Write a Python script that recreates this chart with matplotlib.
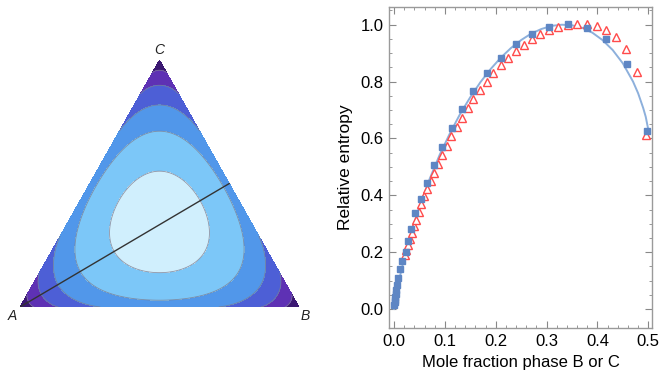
import numpy as np
import matplotlib
matplotlib.use("Agg")
import matplotlib.pyplot as plt
import matplotlib.tri as mtri

plt.rcParams["font.family"] = ["Liberation Sans", "DejaVu Sans"]

# contour levels of the mixing entropy -sum(x ln x) and band colours
levels = [0.0, 0.2, 0.4, 0.6, 0.8, 1.0, 1.1]
band_colors = ["#3b1872", "#5e31b4", "#4d5fd6", "#5197ea", "#7cc7f8", "#d0effd"]
vertex_labels = ["A", "B", "C"]

# right panel data
sq_x = [0.0006, 0.0013, 0.002, 0.0026, 0.0032, 0.0045, 0.0058, 0.0085, 0.0118,
        0.0163, 0.0236, 0.0282, 0.0334, 0.0419, 0.0525, 0.0643, 0.0793, 0.0944,
        0.1147, 0.134, 0.156, 0.1823, 0.210, 0.239, 0.271, 0.305, 0.3415, 0.379,
        0.417, 0.4575, 0.498]
sq_y = [0.014, 0.024, 0.033, 0.042, 0.052, 0.066, 0.084, 0.110, 0.140,
        0.169, 0.2015, 0.240, 0.282, 0.337, 0.386, 0.444, 0.506, 0.571,
        0.638, 0.702, 0.767, 0.829, 0.884, 0.931, 0.967, 0.993, 1.001, 0.989,
        0.949, 0.862, 0.626]

tri_x = [0.021, 0.0242, 0.0275, 0.0315, 0.0348, 0.0387, 0.0433, 0.0485, 0.0537,
         0.0596, 0.0655, 0.0721, 0.0793, 0.0865, 0.0944, 0.1036, 0.1127, 0.1232,
         0.1337, 0.1455, 0.1563, 0.169, 0.1823, 0.1953, 0.2099, 0.2248, 0.240,
         0.2557, 0.2714, 0.2878, 0.3054, 0.323, 0.3421, 0.3604, 0.379, 0.3986,
         0.417, 0.4365, 0.4557, 0.477, 0.4955]
tri_y = [0.190, 0.2075, 0.225, 0.246, 0.266, 0.291, 0.314, 0.340, 0.368,
         0.396, 0.423, 0.450, 0.478, 0.511, 0.5417, 0.5745, 0.6085, 0.639,
         0.672, 0.706, 0.7376, 0.770, 0.7995, 0.831, 0.858, 0.884, 0.9075,
         0.929, 0.949, 0.967, 0.981, 0.991, 0.998, 1.001, 1.001, 0.994,
         0.981, 0.958, 0.9145, 0.833, 0.612]

curve_x = [0.0, 0.002, 0.005, 0.01, 0.02, 0.03, 0.04, 0.05, 0.07, 0.09, 0.11,
           0.13, 0.15, 0.17, 0.19, 0.21, 0.23, 0.25, 0.27, 0.29, 0.31, 0.33,
           0.35, 0.37, 0.39, 0.41, 0.43, 0.45, 0.47, 0.48, 0.49, 0.495, 0.5]
curve_y = [0.0, 0.026, 0.057, 0.102, 0.178, 0.244, 0.304, 0.359, 0.457, 0.543,
           0.618, 0.686, 0.745, 0.798, 0.844, 0.884, 0.918, 0.946, 0.969, 0.985,
           0.996, 1.000, 0.998, 0.989, 0.972, 0.946, 0.911, 0.864, 0.800, 0.759,
           0.707, 0.676, 0.631]

W, H = 659, 373
fig = plt.figure(figsize=(W / 100, H / 100), dpi=100)

# ---- left: ternary contour plot ----
apex_h = 0.885
verts = np.array([[0.0, 0.0], [1.0, 0.0], [0.5, apex_h]])


def to_xy(a, b, c):
    return a * verts[0, 0] + b * verts[1, 0] + c * verts[2, 0], \
           a * verts[0, 1] + b * verts[1, 1] + c * verts[2, 1]


axl = fig.add_axes([20 / W, (H - 307) / H, 279 / W, 279 / H])
n = 240
bb, cc = np.meshgrid(np.arange(n + 1) / n, np.arange(n + 1) / n)
keep = bb + cc <= 1 + 1e-9
b = bb[keep]
c = cc[keep]
a = np.clip(1 - b - c, 0, 1)
comp = np.vstack([a, b, c])
with np.errstate(divide="ignore", invalid="ignore"):
    s = -np.where(comp > 0, comp * np.log(comp), 0).sum(axis=0)
px, py = to_xy(a, b, c)
tr = mtri.Triangulation(px, py)
axl.tricontourf(tr, s, levels=levels, colors=band_colors)
axl.tricontour(tr, s, levels=levels[1:-1], colors="#7d7d90", linewidths=0.6, alpha=0.8)

lx, ly = to_xy(np.array([1.0, 0.0]), np.array([0.0, 0.5]), np.array([0.0, 0.5]))
axl.plot(lx, ly, color="#333333", lw=1.0)

label_pos = [(-0.028, -0.032), (1.022, -0.032), (0.5, 0.922)]
for lab, (x, y) in zip(vertex_labels, label_pos):
    axl.text(x, y, lab, fontsize=10, style="italic", color="#222222",
             ha="center", va="center")
axl.set_xlim(0, 1)
axl.set_ylim(0, 1)
axl.axis("off")

# ---- right: entropy along the A -> BC line ----
axr = fig.add_axes([389 / W, (H - 328) / H, 263 / W, 321 / H])
axr.plot(curve_x, curve_y, color="#8db0dc", lw=1.4, zorder=2)
axr.plot(tri_x, tri_y, "^", ms=5.5, mfc="white", mec="#ff4b4b", mew=1.0, zorder=3)
axr.plot(sq_x, sq_y, "s", ms=3.8, color="#5e86c4", zorder=4)

axr.set_xlim(-0.0098, 0.5073)
axr.set_ylim(-0.0668, 1.0623)
axr.set_xticks(np.arange(0, 0.51, 0.1))
axr.set_xticks(np.arange(0, 0.51, 0.02), minor=True)
axr.set_yticks(np.arange(0, 1.01, 0.2))
axr.set_yticks(np.arange(0, 1.06, 0.05), minor=True)
axr.set_xticklabels([f"{v:.1f}" for v in np.arange(0, 0.51, 0.1)])
axr.set_yticklabels([f"{v:.1f}" for v in np.arange(0, 1.01, 0.2)])
axr.tick_params(which="both", direction="in", top=True, right=True, color="#888888",
                labelsize=12, pad=4)
axr.tick_params(which="major", length=5, width=0.8)
axr.tick_params(which="minor", length=2.5, width=0.6)
for sp in axr.spines.values():
    sp.set_color("#9a9a9a")
    sp.set_linewidth(1.0)
axr.set_xlabel("Mole fraction phase B or C", fontsize=12, labelpad=5)
axr.set_ylabel("Relative entropy", fontsize=12.5, labelpad=5)

fig.savefig("out.png", dpi=100)
